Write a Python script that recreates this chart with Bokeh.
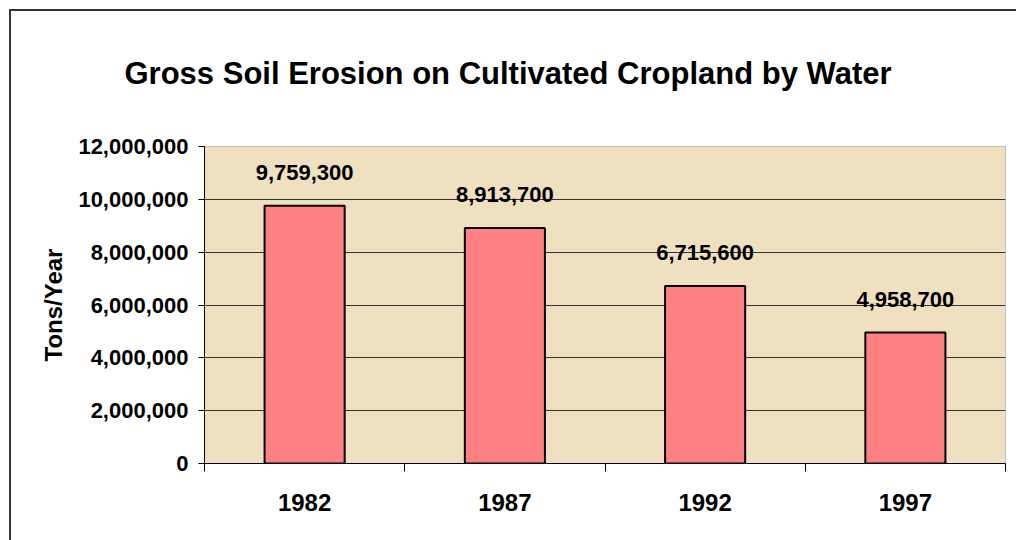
from bokeh.plotting import figure
from bokeh.models import (Range1d, FixedTicker, NumeralTickFormatter, ColumnDataSource,
                          LabelSet)
from bokeh.core.properties import value
from bokeh.embed import file_html
from bokeh.resources import INLINE

title_text = "Gross Soil Erosion on Cultivated Cropland by Water"
years = ["1982", "1987", "1992", "1997"]
erosion = [9759300, 8913700, 6715600, 4958700]
y_ticks = [0, 2000000, 4000000, 6000000, 8000000, 10000000, 12000000]

FONT = "Liberation Sans"

xpos = [i + 0.5 for i in range(len(years))]
src = ColumnDataSource(dict(x=xpos, top=erosion,
                            lbl=[f"{v:,}" for v in erosion]))

p = figure(frame_width=801, frame_height=317,
           x_range=Range1d(0, len(years)), y_range=Range1d(0, 12000000),
           output_backend="svg", toolbar_location=None,
           min_border_left=204, min_border_right=11,
           min_border_top=146, min_border_bottom=77,
           background_fill_color="#EFE1BF", border_fill_color=None)

p.styles = {
    "background": "linear-gradient(#333,#333) 9px 9px / 2px 100% no-repeat, "
                  "linear-gradient(#333,#333) 9px 9px / 100% 2px no-repeat, white"
}

p.title.text = title_text
p.title.text_font = FONT
p.title.text_font_size = "31px"
p.title.text_font_style = "bold"
p.title.text_color = "black"
p.title.align = "left"
p.title.offset = -80
p.title.vertical_align = "top"
p.title.standoff = 108
p.title.text_line_height = 1.0

p.outline_line_color = "#C0C0C0"
p.outline_line_width = 1

p.vbar(x="x", top="top", width=0.4, bottom=0, source=src,
       fill_color="#FF8080", line_color="black", line_width=2)

labels = LabelSet(x="x", y="top", text="lbl", source=src, text_align="center",
                  text_baseline="alphabetic", y_offset=26,
                  text_font=value(FONT), text_font_size=value("22px"),
                  text_font_style="bold", text_color="black")
p.add_layout(labels)

# y axis
p.yaxis.ticker = FixedTicker(ticks=y_ticks)
p.yaxis.formatter = NumeralTickFormatter(format="0,0")
p.yaxis.axis_label = "Tons/Year"
p.yaxis.axis_label_text_font = FONT
p.yaxis.axis_label_text_font_size = "24px"
p.yaxis.axis_label_text_font_style = "bold"
p.yaxis.axis_label_text_color = "black"
p.yaxis.axis_label_standoff = 8
p.yaxis.major_label_text_font = FONT
p.yaxis.major_label_text_font_size = "22px"
p.yaxis.major_label_text_font_style = "bold"
p.yaxis.major_label_text_color = "black"
p.yaxis.major_label_standoff = 10
p.yaxis.major_tick_out = 6
p.yaxis.major_tick_in = 0
p.yaxis.minor_tick_out = 0
p.yaxis.minor_tick_in = 0
p.yaxis.axis_line_color = "black"
p.yaxis.major_tick_line_color = "black"

# x axis
p.xaxis.ticker = FixedTicker(ticks=xpos, minor_ticks=list(range(len(years) + 1)))
p.xaxis.major_label_overrides = {x: y for x, y in zip(xpos, years)}
p.xaxis.major_label_text_font = FONT
p.xaxis.major_label_text_font_size = "24px"
p.xaxis.major_label_text_font_style = "bold"
p.xaxis.major_label_text_color = "black"
p.xaxis.major_label_standoff = 22
p.xaxis.major_tick_out = 0
p.xaxis.major_tick_in = 0
p.xaxis.minor_tick_out = 8
p.xaxis.minor_tick_in = 0
p.xaxis.minor_tick_line_color = "black"
p.xaxis.axis_line_color = "black"

p.xgrid.grid_line_color = None
p.ygrid.grid_line_color = "#333333"
p.ygrid.grid_line_width = 1

open("out.html", "w").write(file_html(p, INLINE))
